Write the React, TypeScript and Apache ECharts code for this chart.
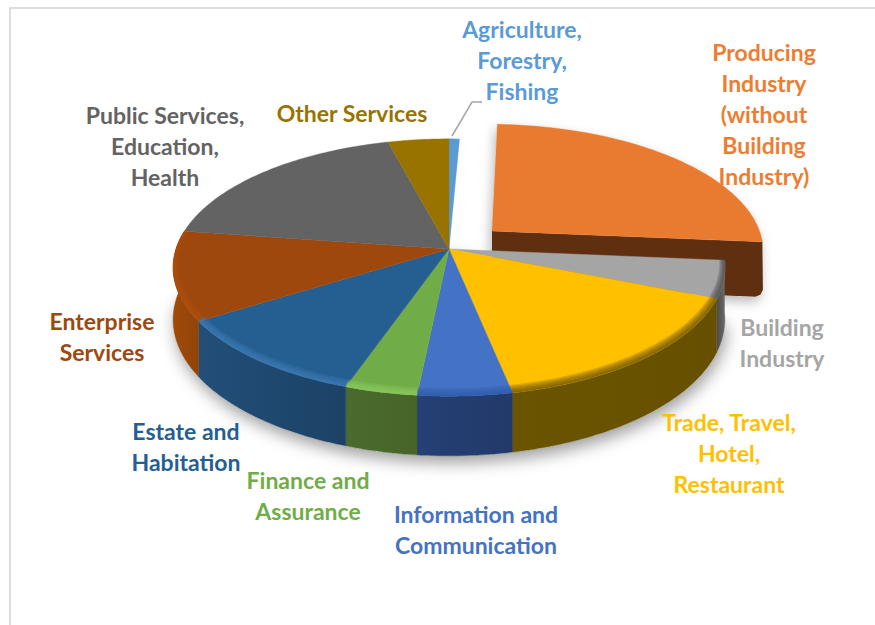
import React, { useEffect, useRef } from "react";
import * as echarts from "echarts";

const categories = [
  "Agriculture,\nForestry,\nFishing",
  "Producing\nIndustry\n(without\nBuilding\nIndustry)",
  "Building\nIndustry",
  "Trade, Travel,\nHotel,\nRestaurant",
  "Information and\nCommunication",
  "Finance and\nAssurance",
  "Estate and\nHabitation",
  "Enterprise\nServices",
  "Public Services,\nEducation,\nHealth",
  "Other Services",
];
const shares = [0.7, 25.7, 4.7, 15.7, 4.8, 3.7, 10.8, 11.2, 18.6, 4.1];

const topColors = ["#5B9BD5", "#E97B30", "#A5A5A5", "#FFC000", "#4472C4", "#70AD47", "#255E91", "#9E480E", "#636363", "#997300"];
const labelColors = ["#5B9BD5", "#ED7D31", "#A5A5A5", "#FFC000", "#4472C4", "#70AD47", "#255E91", "#9E480E", "#636363", "#997300"];
const wallFrom = ["#3a6a96", "#5F2F10", "#4a4a4a", "#6B5400", "#263F75", "#4A6A2E", "#224E78", "#A04A0A", "#444444", "#665000"];
const wallTo = ["#3a6a96", "#5F2F10", "#6a6a6a", "#665000", "#223A6A", "#486529", "#1C4266", "#924408", "#444444", "#665000"];
const rimColors = [null, null, "#4a4a4a", "#6B5400", "#2E5CA8", "#8FCB63", "#3F80B8", "#B0530F", null, null];
const labelCenters = [
  [522, 60], [764, 114], [782, 342], [729, 453], [476, 529],
  [308, 495], [186, 446], [102, 336], [165, 146], [352, 113],
];

const CX = 449, CY = 249, R = 273, RY = 126, K = 0.144, DEPTH = 51;
const EXPLODE_INDEX = 1, EX = 43, EY = -18;
const total = shares.reduce((a, b) => a + b, 0);

function project(theta: number, r: number, down = 0): number[] {
  const a = (theta * Math.PI) / 180;
  const u = Math.sin(a) * r, v = Math.cos(a) * r;
  const s = 1 / (1 + K * v);
  return [CX + R * u * s, CY - RY * v * s + down * s];
}
function arc(a0: number, a1: number, r: number, down = 0): number[][] {
  const n = Math.max(2, Math.ceil(Math.abs(a1 - a0)));
  const out: number[][] = [];
  for (let i = 0; i <= n; i++) out.push(project(a0 + ((a1 - a0) * i) / n, r, down));
  return out;
}
// the pulled-out slice recedes slightly: it is a little smaller and leans towards the back
function pulled(p: number[]): number[] {
  const x = p[0] - CX, y = p[1] - CY;
  return [CX + EX + x * 0.98 + y * 0.045, CY + EY + y * 0.97];
}
function rimArc(a0: number, a1: number, t: number): number[][] {
  return arc(a0, a1, 1 - 0.02 * t, -4 * t);
}

function renderItem(params: any, api: any) {
  const i = params.dataIndex;
  let start = 0;
  for (let j = 0; j < i; j++) start += shares[j];
  const a0 = (start / total) * 360;
  const a1 = a0 + (api.value(0) / total) * 360;
  const ex = i === EXPLODE_INDEX;
  const children: any[] = [];

  if (i === 0) {
    children.push({
      type: "polygon", z2: 1, shape: { points: [[CX, CY], ...arc(98, 272, 1, DEPTH)] },
      style: { fill: "#ffffff", shadowBlur: 16, shadowColor: "rgba(0,0,0,0.38)", shadowOffsetY: 7, shadowOffsetX: 2 },
    });
  }
  if (ex) {
    const apex = pulled([CX, CY]);
    const rimEnd = pulled(project(a1, 1));
    const d = DEPTH + 4;
    const corner = [rimEnd[0] - 1, rimEnd[1] + d];
    const wall = [
      apex, rimEnd, [rimEnd[0] + 0.5, corner[1] - 7], [corner[0] - 1, corner[1] - 2], [corner[0] - 6, corner[1]],
      [apex[0], apex[1] + d],
    ];
    children.push({
      type: "polygon", z2: 2, shape: { points: [...arc(a0, a1, 1).map(pulled), ...wall.slice(2), apex] },
      style: { fill: "#ffffff", shadowBlur: 12, shadowColor: "rgba(0,0,0,0.28)", shadowOffsetX: -2, shadowOffsetY: 5 },
    });
    children.push({ type: "polygon", z2: 10, shape: { points: wall }, style: { fill: wallFrom[i] } });
    children.push({
      type: "polygon", z2: 15, shape: { points: [apex, ...arc(a0, a1, 1).map(pulled)] },
      style: { fill: topColors[i], stroke: topColors[i], lineWidth: 0.4 },
    });
  } else {
    // the outer wall of a slice at the back of the pie faces away and is never seen
    const facesViewer = Math.cos((((a0 + a1) / 2) * Math.PI) / 180) < 0.5;
    if (facesViewer) {
      children.push({
        type: "polygon", z2: 21, shape: {
          points: [...arc(a0, a1, 1), ...arc(a1, a0, 1, DEPTH)],
        },
        style: {
          fill: new echarts.graphic.LinearGradient(0, 0, 1, 0, [
            { offset: 0, color: wallFrom[i] }, { offset: 1, color: wallTo[i] },
          ]),
          stroke: wallTo[i], lineWidth: 0.5,
        },
      });
    }
    children.push({
      type: "polygon", z2: 25, shape: { points: [[CX, CY], ...arc(a0, a1, 1)] },
      style: { fill: topColors[i], stroke: topColors[i], lineWidth: 0.4 },
    });
    const rim = rimColors[i];
    if (rim) {
      const bands = 6;
      for (let b = 0; b < bands; b++) {
        const t = (bands - b) / bands;
        children.push({
          type: "polygon", z2: 26 + b, shape: {
            points: [...rimArc(a0, a1, t), ...arc(a1, a0, 1)],
          },
          style: { fill: rim, opacity: 0.22 },
        });
      }
    }
  }
  const c = labelCenters[i];
  children.push({
    type: "text", z2: 60, x: c[0], y: c[1],
    style: {
      text: categories[i], fill: labelColors[i], align: "center", verticalAlign: "middle",
      fontFamily: "Lato", fontWeight: 700, fontSize: 23, lineHeight: 31,
    },
  });
  if (i === 0) {
    children.push({
      type: "polyline", z2: 60,
      shape: { points: [[452, 136], [472, 102], [482, 102]] },
      style: { fill: "none", stroke: "#A5A5A5", lineWidth: 1.5 },
    });
  }
  return { type: "group", children };
}

export default function App() {
  const ref = useRef<HTMLDivElement>(null);
  useEffect(() => {
    document.body.style.margin = "0";
    const chart = echarts.init(ref.current!, undefined, { renderer: "svg" });
    chart.setOption({
      animation: false,
      backgroundColor: "#ffffff",
      graphic: [
        { type: "line", shape: { x1: 9.5, y1: 8, x2: 875, y2: 8 }, style: { stroke: "#DCDCDC", lineWidth: 2 } },
        { type: "line", shape: { x1: 10, y1: 8, x2: 10, y2: 625 }, style: { stroke: "#DCDCDC", lineWidth: 2 } },
      ],
      series: [
        {
          type: "custom",
          coordinateSystem: "none",
          silent: true,
          clip: false,
          renderItem,
          data: shares.map((v, i) => ({ name: categories[i], value: [v] })),
        },
      ],
    });
    return () => chart.dispose();
  }, []);
  return <div ref={ref} style={{ width: 875, height: 625, position: "absolute", left: 0, top: 0 }} />;
}
